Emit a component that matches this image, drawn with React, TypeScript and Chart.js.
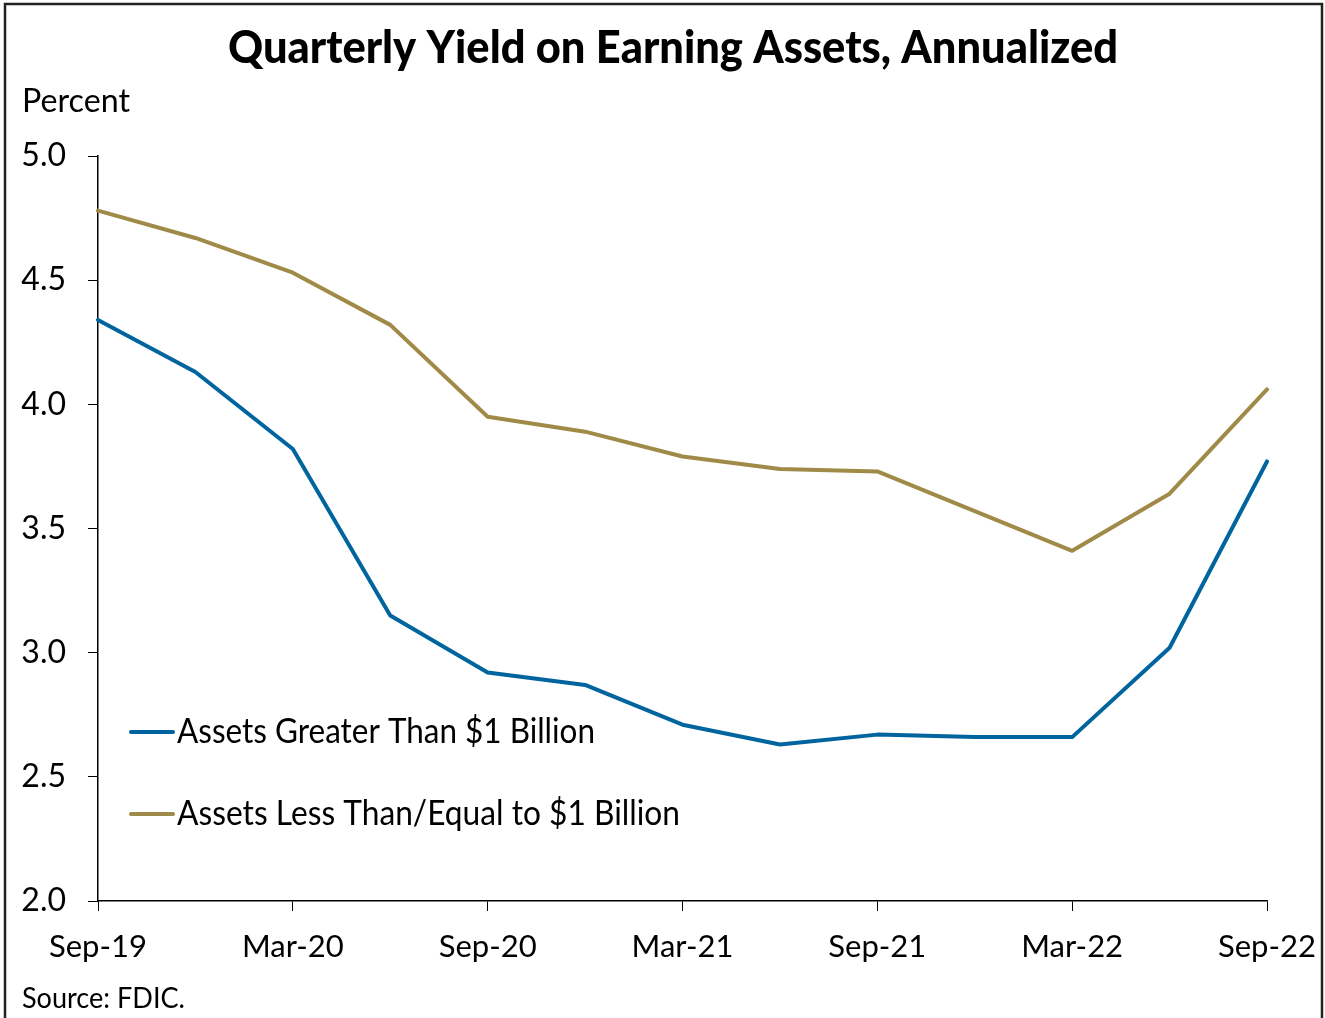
import React, { useEffect, useRef } from "react";
import { Chart, registerables } from "chart.js";

Chart.register(...registerables);

const quarters = ["Sep-19","Dec-19","Mar-20","Jun-20","Sep-20","Dec-20","Mar-21","Jun-21","Sep-21","Dec-21","Mar-22","Jun-22","Sep-22"];
const largeBanks = [4.34, 4.13, 3.82, 3.15, 2.92, 2.87, 2.71, 2.63, 2.67, 2.66, 2.66, 3.02, 3.77];
const smallBanks = [4.78, 4.67, 4.53, 4.32, 3.95, 3.89, 3.79, 3.74, 3.73, 3.57, 3.41, 3.64, 4.06];
const seriesNames = ["Assets Greater Than $1 Billion", "Assets Less Than/Equal to $1 Billion"];
const seriesColors = ["#00649E", "#A08A47"];
const titleText = "Quarterly Yield on Earning Assets, Annualized";
const unitText = "Percent";
const sourceText = "Source: FDIC.";

const FONT = "Lato, 'Open Sans', sans-serif";

function drawFit(ctx: CanvasRenderingContext2D, text: string, x: number, y: number, width: number, font: string) {
  ctx.save();
  ctx.font = font;
  ctx.textBaseline = "middle";
  ctx.textAlign = "left";
  const w = ctx.measureText(text).width;
  const s = width / w;
  ctx.translate(x, y);
  ctx.scale(s, 1);
  ctx.fillText(text, 0, 0);
  ctx.restore();
}

const decorPlugin = {
  id: "decor",
  afterDraw(chart: any) {
    const ctx = chart.ctx as CanvasRenderingContext2D;
    ctx.save();
    ctx.fillStyle = "#000";
    drawFit(ctx, titleText, 228, 48, 890, `900 46px ${FONT}`);
    drawFit(ctx, unitText, 22, 102, 108, `32px ${FONT}`);
    drawFit(ctx, sourceText, 22, 999, 163, `28px ${FONT}`);
    const items = [
      { y: 731, w: 418 },
      { y: 813, w: 503 },
    ];
    items.forEach((it, i) => {
      ctx.strokeStyle = seriesColors[i];
      ctx.lineWidth = 4;
      ctx.lineCap = "round";
      ctx.beginPath();
      ctx.moveTo(131, it.y + 1);
      ctx.lineTo(173, it.y + 1);
      ctx.stroke();
      ctx.fillStyle = "#000";
      drawFit(ctx, seriesNames[i], 177, it.y + 1, it.w, `34px ${FONT}`);
    });
    ctx.strokeStyle = "#222";
    ctx.lineWidth = 2.5;
    ctx.lineCap = "butt";
    ctx.beginPath();
    ctx.moveTo(5, 1018);
    ctx.lineTo(5, 4);
    ctx.lineTo(1322, 4);
    ctx.lineTo(1322, 1018);
    ctx.stroke();
    ctx.restore();
  },
};

export default function App() {
  const ref = useRef<HTMLCanvasElement>(null);
  useEffect(() => {
    document.body.style.margin = "0";
    const canvas = ref.current!;
    const chart = new Chart(canvas, {
      type: "line",
      data: {
        labels: quarters,
        datasets: [
          {
            label: seriesNames[0],
            data: largeBanks,
            borderColor: seriesColors[0],
            backgroundColor: seriesColors[0],
            borderWidth: 4,
            pointRadius: 0,
            tension: 0,
            borderJoinStyle: "round",
            borderCapStyle: "round",
          },
          {
            label: seriesNames[1],
            data: smallBanks,
            borderColor: seriesColors[1],
            backgroundColor: seriesColors[1],
            borderWidth: 4,
            pointRadius: 0,
            tension: 0,
            borderJoinStyle: "round",
            borderCapStyle: "round",
          },
        ],
      },
      options: {
        responsive: false,
        animation: false,
        devicePixelRatio: 1,
        layout: { padding: { left: 0, top: 156, right: 58, bottom: 0 } },
        plugins: {
          legend: { display: false },
          title: { display: false },
          tooltip: { enabled: false },
        },
        scales: {
          x: {
            type: "category",
            offset: false,
            grid: { drawOnChartArea: false, drawTicks: true, tickLength: 10, color: "#000", lineWidth: 1 },
            border: { display: true, color: "#000", width: 1.5 },
            ticks: {
              autoSkip: false,
              maxRotation: 0,
              color: "#000",
              font: { family: FONT, size: 31 },
              padding: 17,
            },
            afterBuildTicks: (scale: any) => {
              scale.ticks = scale.ticks.filter((_t: any, i: number) => i % 2 === 0);
            },
            afterFit: (scale: any) => {
              scale.height = 117;
              scale.paddingLeft = 0;
              scale.paddingRight = 0;
            },
          },
          y: {
            min: 2,
            max: 5,
            grid: { drawOnChartArea: false, drawTicks: true, tickLength: 10, color: "#000", lineWidth: 1 },
            border: { display: true, color: "#000", width: 1.5 },
            ticks: {
              stepSize: 0.5,
              color: "#000",
              font: { family: FONT, size: 32 },
              padding: 22,
              callback: (v: any) => Number(v).toFixed(1),
            },
            afterFit: (scale: any) => {
              scale.width = 98;
              scale.paddingTop = 0;
              scale.paddingBottom = 0;
            },
          },
        },
      },
      plugins: [decorPlugin],
    });
    return () => chart.destroy();
  }, []);
  return (
    <div style={{ position: "absolute", left: 0, top: 0, width: 1325, height: 1018, background: "#fff" }}>
      <canvas ref={ref} width={1325} height={1018} style={{ display: "block", width: 1325, height: 1018 }} />
    </div>
  );
}
